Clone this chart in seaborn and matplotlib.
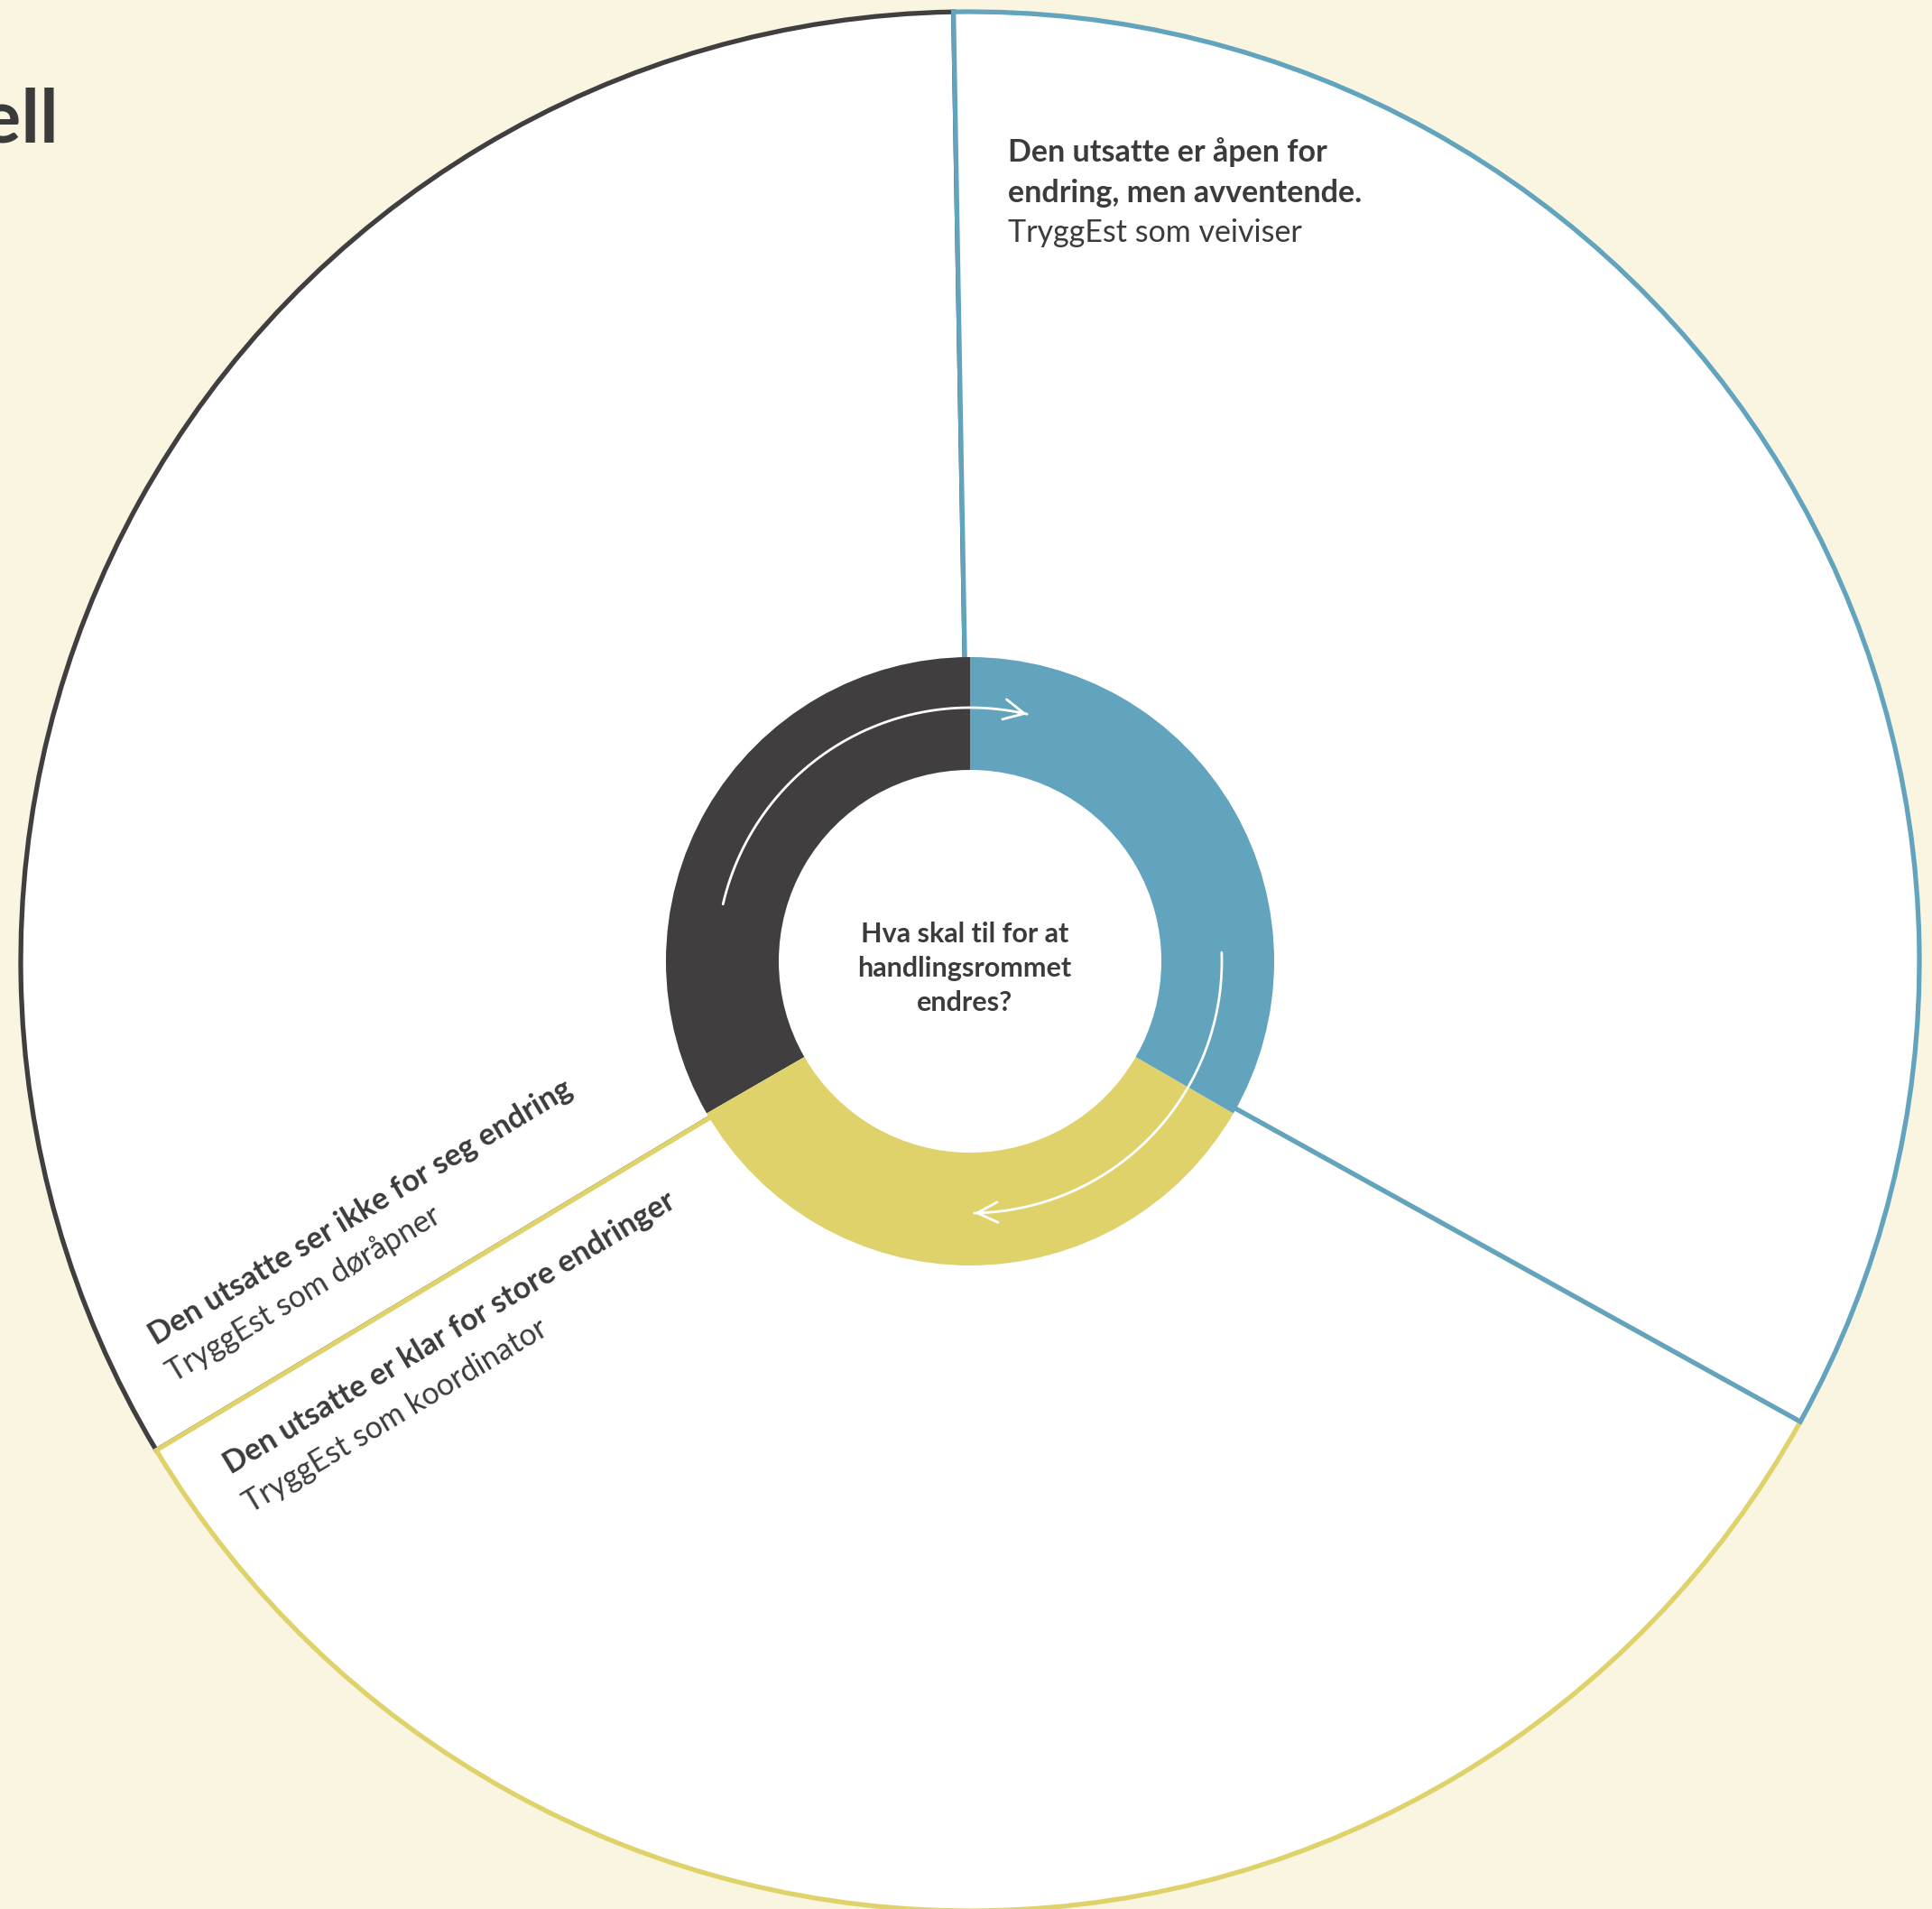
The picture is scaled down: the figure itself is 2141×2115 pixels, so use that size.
import numpy as np
import matplotlib
matplotlib.use("Agg")
import matplotlib.pyplot as plt
import seaborn as sns
from matplotlib.patches import Circle

# ---------------- data ----------------
segment_titles = ["Den utsatte ser ikke for seg endring",
                  "Den utsatte er klar for store endringer",
                  "Den utsatte er åpen for endring, men avventende."]
segment_roles = ["TryggEst som døråpner", "TryggEst som koordinator", "TryggEst som veiviser"]
segment_degrees = [120, 120, 120]          # three equal sectors
segment_colors = ["#403E3F", "#E0D26B", "#62A3BE"]
center_question = "Hva skal til for at\nhandlingsrommet\nendres?"
title_text = "TryggEst-modell"

BG = "#F9F5E1"
TXT = "#3C3B3C"

sns.set_theme(style="white")
plt.rcParams['font.family'] = ['Lato', 'DejaVu Sans']

W, H = 2141, 2115
fig = plt.figure(figsize=(W / 100, H / 100), dpi=100, facecolor=BG)
ax = fig.add_axes([0, 0, 1, 1])
ax.set_facecolor(BG)

cx, cy = 1075, 1050
R_big = 1052
R_ring_out, R_ring_in = 337, 212

# big outer sectors (white fill, coloured outline)
big, _ = ax.pie(segment_degrees, radius=R_big, center=(cx, cy), startangle=91,
                counterclock=True, colors=["white"] * 3,
                wedgeprops=dict(linewidth=3.8))
for w, c in zip(big, segment_colors):
    w.set_edgecolor(c)
    w.set_zorder(1)

# white hole
ax.add_patch(Circle((cx, cy), R_ring_in, fc="white", ec="none", zorder=1.5))

# inner ring
ring, _ = ax.pie(segment_degrees, radius=R_ring_out, center=(cx, cy), startangle=90,
                 counterclock=True, colors=segment_colors,
                 wedgeprops=dict(width=R_ring_out - R_ring_in, edgecolor="none"))
for w in ring:
    w.set_zorder(2)


def arrow_arc(a0, a1, r):
    t = np.radians(np.linspace(a0, a1, 300))
    x = cx + r * np.cos(t)
    y = cy + r * np.sin(t)
    ax.plot(x, y, color="white", lw=2, zorder=3, solid_capstyle="round")
    ax.annotate("", xy=(x[-1], y[-1]), xytext=(x[-8], y[-8]),
                arrowprops=dict(arrowstyle="->,head_length=0.9,head_width=0.45",
                                color="white", lw=2, shrinkA=0, shrinkB=0,
                                mutation_scale=18), zorder=3)


arrow_arc(167, 77, 281)
arrow_arc(2, -89, 279)

# centre question
ax.text(cx - 6, cy - 8, center_question, ha="center", va="center", fontsize=22,
        fontweight="bold", color=TXT, linespacing=1.45, zorder=4)

# title (cut by the figure edge, as in the source)
ax.text(66, 1958, title_text, ha="right", va="baseline", fontsize=60,
        fontweight="bold", color=TXT)

FS = 24.5
# blue sector label
ax.text(1117, 1936, "Den utsatte er åpen for", ha="left", va="baseline",
        fontsize=FS, fontweight="bold", color=TXT)
ax.text(1117, 1891, "endring, men avventende.", ha="left", va="baseline",
        fontsize=FS, fontweight="bold", color=TXT)
ax.text(1117, 1847, segment_roles[2], ha="left", va="baseline",
        fontsize=FS, color=TXT)

# rotated labels
rot = 31
ax.text(173, 624, segment_titles[0], rotation=rot, rotation_mode="anchor",
        ha="left", va="baseline", fontsize=FS, fontweight="bold", color=TXT)
ax.text(193, 583, segment_roles[0], rotation=rot, rotation_mode="anchor",
        ha="left", va="baseline", fontsize=FS, color=TXT)
ax.text(256, 481, segment_titles[1], rotation=rot, rotation_mode="anchor",
        ha="left", va="baseline", fontsize=FS, fontweight="bold", color=TXT)
ax.text(278, 438, segment_roles[1], rotation=rot, rotation_mode="anchor",
        ha="left", va="baseline", fontsize=FS, color=TXT)

ax.set_xlim(0, W)
ax.set_ylim(0, H)
ax.set_aspect("equal")
ax.axis("off")

fig.savefig("out.png", dpi=100, facecolor=BG)
